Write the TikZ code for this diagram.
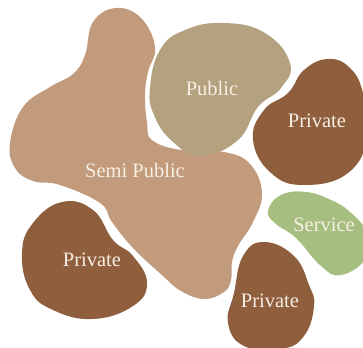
\documentclass[tikz,border=0pt]{standalone}
\usepackage{fontspec}
\setmainfont{Liberation Serif}
\definecolor{semic}{HTML}{C29A7C}
\definecolor{pubc}{HTML}{B3A17F}
\definecolor{privc}{HTML}{8F5E3D}
\definecolor{servc}{HTML}{A6BF80}
\definecolor{labc}{HTML}{F7EFE4}
\tikzset{
  zone/.style={line width=0pt,draw=none},
  lab/.style={text=labc,inner sep=0pt,font=\fontsize{20.5}{22}\selectfont}
}
\begin{document}
\begin{tikzpicture}[x=1pt,y=-1pt]
\useasboundingbox (0,0) rectangle (363,347);
\clip (0,0) rectangle (363,347);
\fill[semic,zone] plot[smooth cycle,tension=0.7] coordinates {(116,8)(141,18)(155,47)(148,72)(145,95)(147,122)(152,140)(181,150)(224,152)(250,164)(262,193)(253,222)(238,246)(232,262)(231,280)(224,292)(204,299)(181,291)(163,276)(133,248)(112,222)(100,203)(60,185)(33,181)(15,168)(10,143)(23,107)(50,87)(73,74)(85,55)(93,22)};
\fill[pubc,zone] plot[smooth cycle,tension=0.75] coordinates {(224,23)(265,33)(290,63)(281,88)(258,107)(238,140)(201,156)(172,141)(154,115)(150,88)(160,50)(185,30)};
\fill[privc,zone] plot[smooth cycle,tension=0.75] coordinates {(328,59)(350,68)(363,93)(368,135)(348,173)(304,185)(271,173)(253,140)(264,110)(288,93)(304,70)};
\fill[servc,zone] plot[smooth cycle,tension=0.75] coordinates {(268,211)(281,195)(306,192)(331,200)(350,212)(366,232)(366,258)(341,275)(321,266)(296,238)(276,224)};
\fill[privc,zone] plot[smooth cycle,tension=0.75] coordinates {(264,242)(294,256)(309,285)(314,306)(304,336)(281,349)(244,346)(228,323)(234,293)(243,256)};
\fill[privc,zone] plot[smooth cycle,tension=0.75] coordinates {(62,202)(93,210)(113,240)(133,256)(147,283)(133,306)(93,319)(53,310)(30,290)(22,253)(33,223)};
\node[lab] (public) at (212,88) {Public};
\node[lab] (privtr) at (317,121) {Private};
\node[lab] (semi) at (135,170) {Semi Public};
\node[lab] (privl) at (92,260) {Private};
\node[lab] (serv) at (324,225) {Service};
\node[lab] (privb) at (270,301) {Private};
\end{tikzpicture}
\end{document}
